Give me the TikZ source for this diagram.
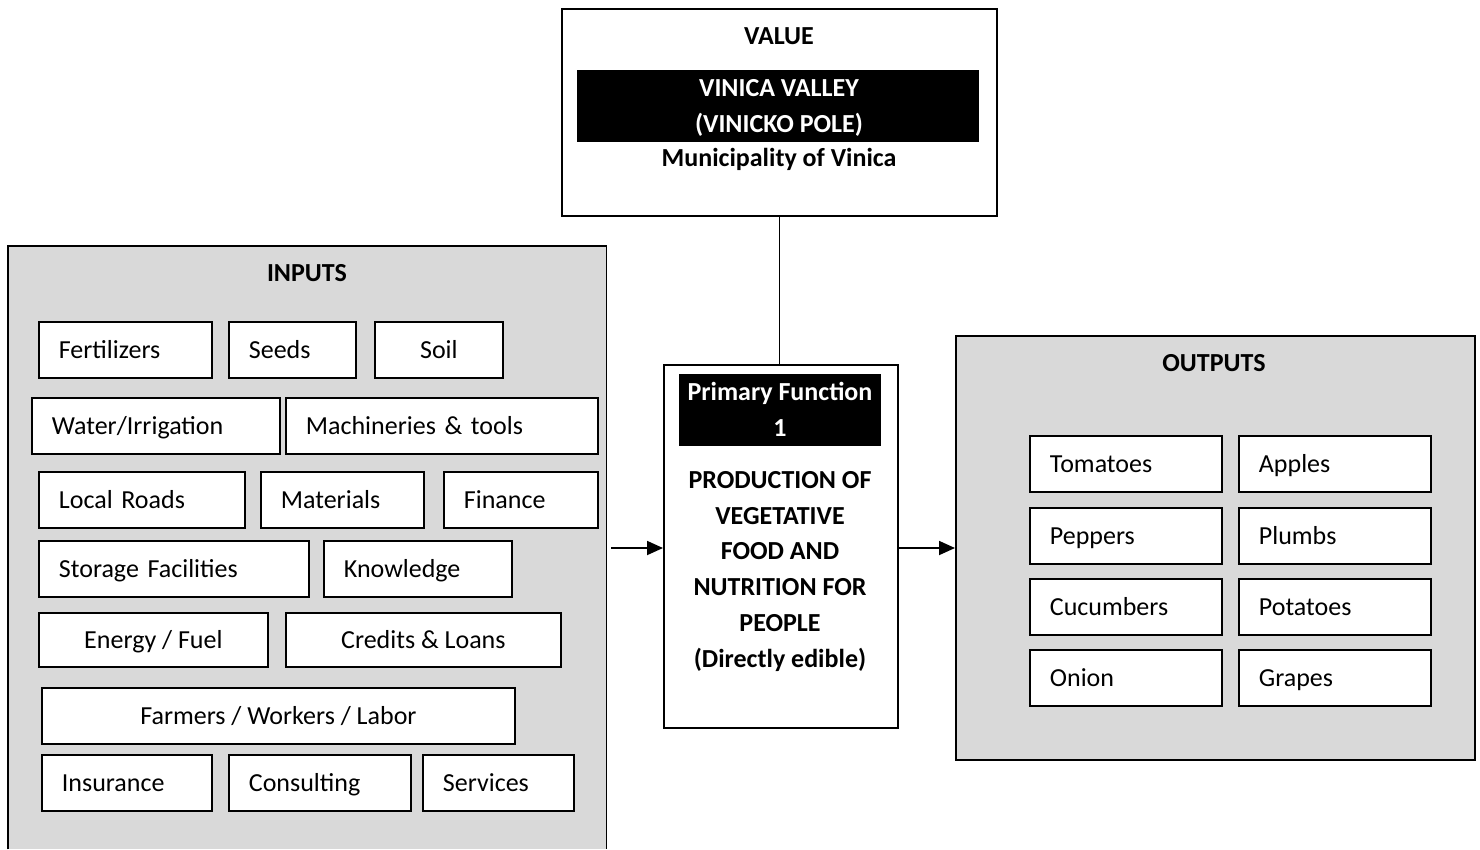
\documentclass[tikz,border=0pt]{standalone}
\usepackage{fontspec}
\setmainfont{Carlito}
\usetikzlibrary{arrows.meta}
\definecolor{panelgray}{HTML}{D9D9D9}
\begin{document}
\begin{tikzpicture}[x=1pt,y=-1pt,
  every node/.style={font=\fontsize{26}{36}\selectfont, inner sep=0pt},
  lw/.style={line width=1.8pt},
  item/.style={draw, lw, fill=white, minimum height=56pt, inner xsep=20pt, inner ysep=0pt, anchor=north west, align=left, text height=22pt, text depth=5pt},
  citem/.style={draw, lw, fill=white, minimum height=56pt, inner sep=0pt, anchor=north west, align=center, text height=22pt, text depth=5pt},
  frame/.style={draw, lw, anchor=north west},
  heading/.style={font=\fontsize{26}{36}\selectfont\bfseries, anchor=base},
  blackbar/.style={fill=black, text=white, anchor=north west, align=center, font=\fontsize{26}{36}\selectfont\bfseries},
  arr/.style={lw, -{Triangle[length=16pt,width=14pt]}}
]
\useasboundingbox (0,0) rectangle (1480,849);
\fill[white] (0,0) rectangle (1480,849);

% VALUE box
\node[frame, fill=white, minimum width=435pt, minimum height=207pt] (value) at (561,8) {};
\node[heading] (valuet) at (779,44.5) {VALUE};
\node[blackbar, minimum width=402pt, minimum height=72pt] (vbar) at (577,70) {};
\node[heading, text=white] (vbar1) at (779,96.5) {VINICA VALLEY};
\node[heading, text=white] (vbar2) at (779,132.5) {(VINICKO POLE)};
\node[heading] (muni) at (779,166.5) {Municipality of Vinica};

% Primary function box
\node[frame, fill=white, minimum width=234pt, minimum height=363pt] (primary) at (663,364) {};
\node[blackbar, minimum width=202pt, minimum height=72pt] (pbar) at (679,374) {};
\node[heading, text=white] (pbar1) at (780,400.5) {Primary Function};
\node[heading, text=white] (pbar2) at (780,436.5) {1};
\node[heading] (pb1) at (780,488.5) {PRODUCTION OF};
\node[heading] (pb2) at (780,524.5) {VEGETATIVE};
\node[heading] (pb3) at (780,559.5) {FOOD AND};
\node[heading] (pb4) at (780,595.5) {NUTRITION FOR};
\node[heading] (pb5) at (780,631.5) {PEOPLE};
\node[heading] (pb6) at (780,667.5) {(Directly edible)};

% connector value -> primary
\draw[lw] (value.south) -- (value.south |- primary.north);

% INPUTS panel
\node[fill=panelgray, anchor=north west, minimum width=598pt, minimum height=603pt] (inputs) at (8,246) {};
\draw[lw] (inputs.south west) -- (inputs.north west) -- (inputs.north east) -- (inputs.south east);
\node[heading] (inputst) at (307,281.5) {INPUTS};

\node[item, text width=133pt] (fert) at (38,321) {Fertilizers};
\node[item, text width=87pt] (seeds) at (228,321) {Seeds};
\node[citem, minimum width=128pt] (soil) at (374,321) {Soil};
\node[item, text width=208pt] (water) at (31,397) {Water/Irrigation};
\node[item, text width=272pt] (mach) at (285,397) {Machineries \& tools};
\node[item, text width=166pt] (roads) at (38,471) {Local Roads};
\node[item, text width=123pt] (mat) at (260,471) {Materials};
\node[item, text width=114pt] (fin) at (443,471) {Finance};
\node[item, text width=230pt] (stor) at (38,540) {Storage Facilities};
\node[item, text width=148pt] (know) at (323,540) {Knowledge};
\node[citem, minimum width=229pt, minimum height=54pt] (energy) at (38,612) {Energy / Fuel};
\node[citem, minimum width=275pt, minimum height=54pt] (credits) at (285,612) {Credits \& Loans};
\node[citem, minimum width=473pt] (farm) at (41,687) {Farmers / Workers / Labor};
\node[item, text width=130pt] (ins) at (41,754) {Insurance};
\node[item, text width=142pt] (cons) at (228,754) {Consulting};
\node[item, text width=111pt] (serv) at (422,754) {Services};

% OUTPUTS panel
\node[frame, fill=panelgray, minimum width=519pt, minimum height=424pt] (outputs) at (955,335) {};
\node[heading] (outputst) at (1214,371.5) {OUTPUTS};
\node[item, text width=152pt] (tom) at (1029,435) {Tomatoes};
\node[item, text width=152pt] (apples) at (1238,435) {Apples};
\node[item, text width=152pt] (pep) at (1029,507) {Peppers};
\node[item, text width=152pt] (plum) at (1238,507) {Plumbs};
\node[item, text width=152pt] (cuc) at (1029,578) {Cucumbers};
\node[item, text width=152pt] (pot) at (1238,578) {Potatoes};
\node[item, text width=152pt] (onion) at (1029,649) {Onion};
\node[item, text width=152pt] (grapes) at (1238,649) {Grapes};

% arrows
\coordinate (ain) at (611,548);
\draw[arr] (ain) -- (ain -| primary.west);
\draw[arr] (ain -| primary.east) -- (ain -| outputs.west);
\end{tikzpicture}
\end{document}
